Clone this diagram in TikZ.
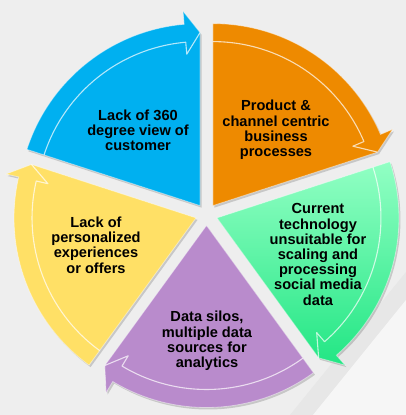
\documentclass[tikz,border=0pt]{standalone}
\usepackage{fontspec}
\setmainfont{Liberation Sans}
\definecolor{cblue}{HTML}{00B0F0}
\definecolor{corange}{HTML}{EE8A00}
\definecolor{cgreenT}{HTML}{92FFC4}
\definecolor{cgreenB}{HTML}{22E684}
\definecolor{cpurple}{HTML}{B98BCC}
\definecolor{cyellow}{HTML}{FFE066}
\definecolor{bgc}{HTML}{EEEEEE}
\definecolor{bgl}{HTML}{F6F6F6}
\definecolor{bgd}{HTML}{E7E7E7}
\newcommand\cycseg[2]{%
  \begin{scope}[shift={(206.5,200.5)}, shift={(#2-36:11)}]
    \fill[black, opacity=.16, shift={(1.5,-2)}] (0,0) -- (#2:182)
      arc[start angle=#2, end angle=#2-67, radius=182] -- (#2-67:195) -- (#2-72:173) -- cycle;
    \path[#1, draw=white, draw opacity=.45, line width=.8] (0,0) -- (#2:182)
      arc[start angle=#2, end angle=#2-67, radius=182] -- (#2-67:195) -- (#2-72:173) -- cycle;
    \draw[white, opacity=.7, line width=1.1, line join=round] (#2:164)
      arc[start angle=#2, end angle=#2-67, radius=164] -- (#2-67:152) -- (#2-72:173);
  \end{scope}}
\tikzset{
  lbl/.style={align=center, text=black, font=\fontsize{14.6}{15.2}\selectfont\bfseries, inner sep=0pt}
}
\begin{document}
\begin{tikzpicture}[x=1pt,y=1pt]
  \fill[bgc] (0,0) rectangle (406,415);
  \fill[bgd] (290,0) -- (313,0) -- (406,115) -- (406,143) -- cycle;
  \fill[bgl] (313,0) -- (406,0) -- (406,115) -- cycle;
  \useasboundingbox (0,0) rectangle (406,415);
  \cycseg{fill=cblue}{162}
  \cycseg{fill=corange}{90}
  \cycseg{top color=cgreenT, bottom color=cgreenB}{18}
  \cycseg{fill=cpurple}{-54}
  \cycseg{fill=cyellow}{-126}
  \node[lbl] (tblue) at (138,285) {Lack of 360\\degree view of\\customer};
  \node[lbl] (torange) at (276,285) {Product \&\\channel centric\\business\\processes};
  \node[lbl] (tgreen) at (318,160.5) {Current\\technology\\unsuitable for\\scaling and\\processing\\social media\\data};
  \node[lbl] (tpurple) at (207,74) {Data silos,\\multiple data\\sources for\\analytics};
  \node[lbl] (tyellow) at (96,170) {Lack of\\personalized\\experiences\\or offers};
\end{tikzpicture}
\end{document}
